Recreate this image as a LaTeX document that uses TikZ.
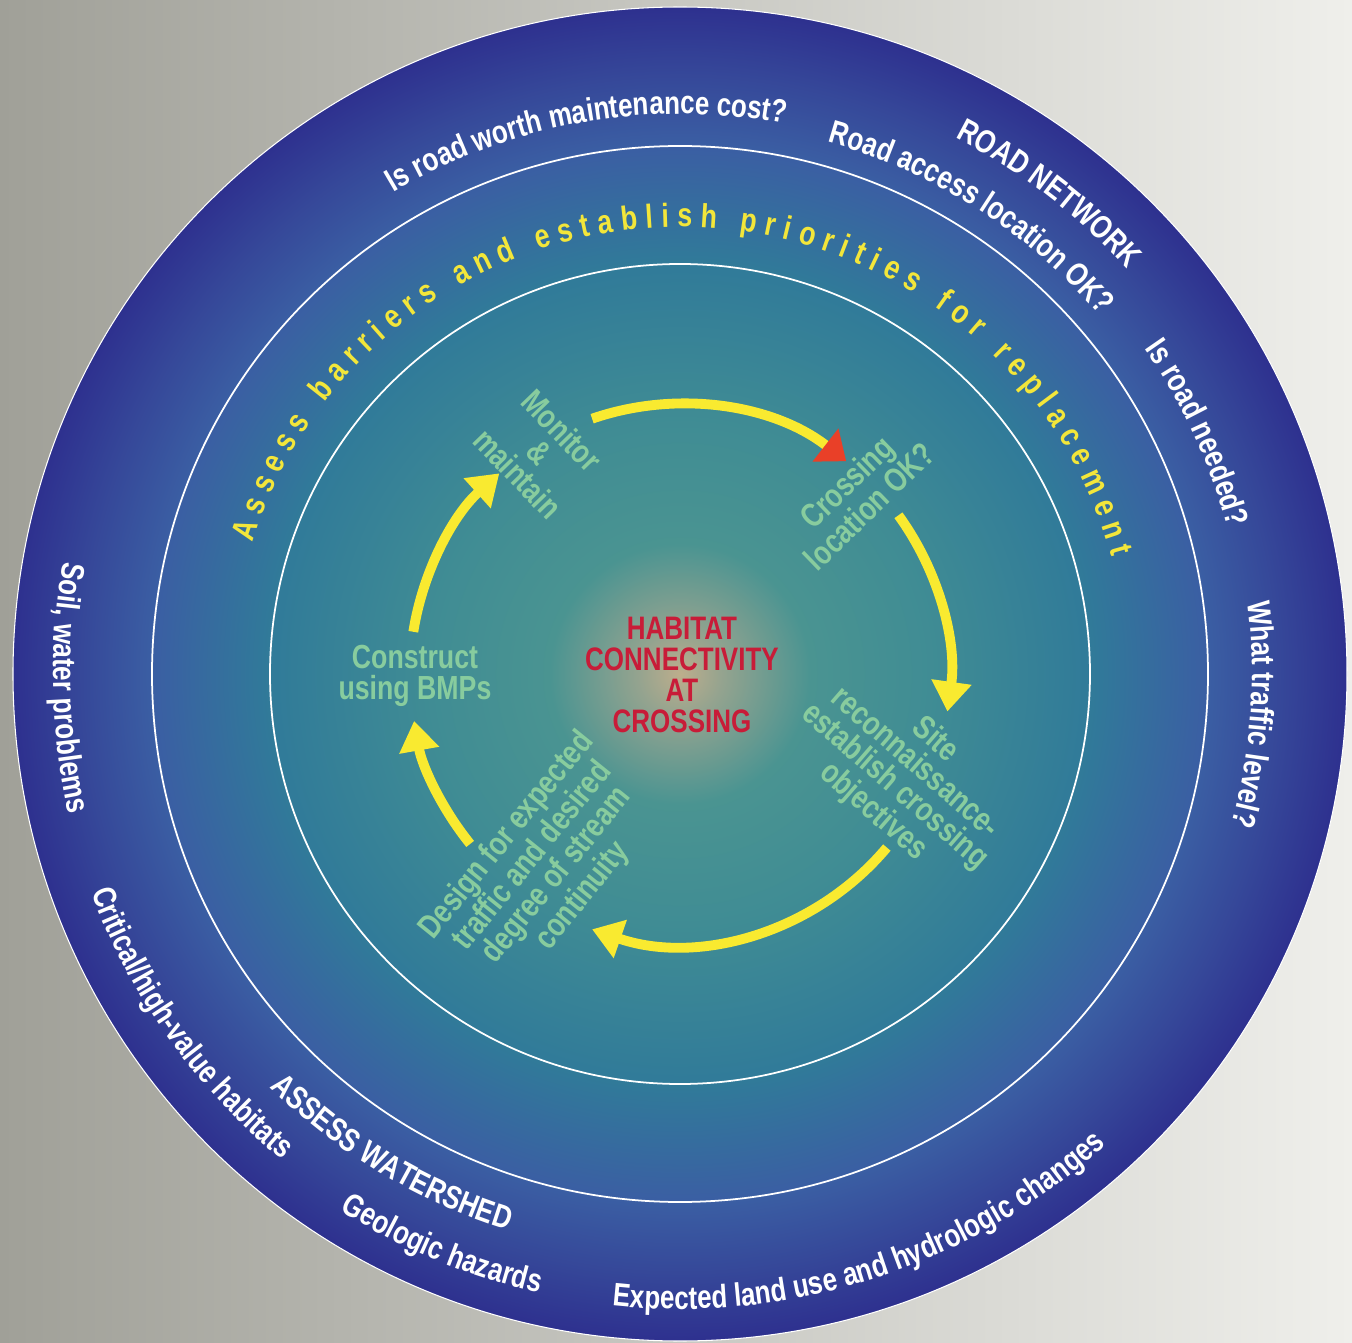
\documentclass[tikz,border=0pt]{standalone}
\usepackage{fontspec}
\setmainfont{Liberation Sans}[FakeStretch=0.8]
\usetikzlibrary{shapes,arrows.meta,decorations.text}

\definecolor{bgleft}{RGB}{160,160,152}
\definecolor{bgright}{RGB}{239,239,235}
\definecolor{stepgreen}{RGB}{136,204,158}
\definecolor{cycleyellow}{RGB}{249,234,48}
\definecolor{headred}{RGB}{233,64,40}
\definecolor{hubred}{RGB}{200,28,56}
\definecolor{ringyellow}{RGB}{243,230,58}

% 25bp is the rim of the disk
\pgfdeclareradialshading{discshade}{\pgfpoint{0bp}{0bp}}{%
  rgb(0bp)=(0.74,0.68,0.55);
  rgb(1.6bp)=(0.58,0.64,0.56);
  rgb(4.9bp)=(0.29,0.58,0.57);
  rgb(9.4bp)=(0.25,0.55,0.58);
  rgb(15.4bp)=(0.19,0.48,0.60);
  rgb(19.8bp)=(0.23,0.37,0.64);
  rgb(22.5bp)=(0.21,0.28,0.60);
  rgb(25bp)=(0.18,0.19,0.56);
  rgb(50bp)=(0.18,0.19,0.56)}

\newcommand{\rimfont}{\color{white}\bfseries\fontsize{18.5}{18.5}\selectfont}
\newcommand{\tagfont}{\bfseries\fontsize{19}{19}\selectfont}

\begin{document}
\begin{tikzpicture}[x=0.02cm, y=0.02cm,
    steplabel/.style={text=stepgreen, font=\bfseries\fontsize{19}{17.5}\selectfont, align=center},
    hub/.style={text=hubred, font=\bfseries\fontsize{18.5}{17.5}\selectfont, align=center},
    cycarrow/.style={cycleyellow, line width=5.6pt, -{Triangle[length=17pt,width=22pt]}},
    ring/.style={white, line width=1pt}]

    % frame
    \useasboundingbox (-680,-668) rectangle (672,674);
    \shade[left color=bgleft, right color=bgright] (-680,-668) rectangle (672,674);

    % disk and rings
    \coordinate (hubc) at (0,0);
    \shade[shading=discshade] (hubc) circle[radius=667];
    \draw[ring, line width=0.6pt] (hubc) circle[radius=667];
    \draw[ring] (hubc) circle[radius=528];
    \draw[ring] (hubc) circle[radius=410];

    % road network (clockwise, letters outward)
    \path[decorate, decoration={text along path, text align=center,
        text={|\rimfont|Is road worth maintenance cost?}}]
        (145:560) arc[start angle=145, end angle=55, radius=560];
    \path[decorate, decoration={text along path, text align=center,
        text={|\rimfont|ROAD NETWORK}}]
        (97.5:603) arc[start angle=97.5, end angle=7.5, radius=603];
    \path[decorate, decoration={text along path, text align=center,
        text={|\rimfont|Road access location OK?}}]
        (102.5:552) arc[start angle=102.5, end angle=12.5, radius=552];
    \path[decorate, decoration={text along path, text align=center,
        text={|\rimfont|Is road needed?}}]
        (70:567) arc[start angle=70, end angle=-20, radius=567];
    \path[decorate, decoration={text along path, text align=center,
        text={|\rimfont|What traffic level?}}]
        (41:572) arc[start angle=41, end angle=-49, radius=572];

    % watershed (counter-clockwise, letters inward)
    \path[decorate, decoration={text along path, text align=center,
        text={|\rimfont|Soil, water problems}}]
        (136.3:627) arc[start angle=136.3, end angle=226.3, radius=627];
    \path[decorate, decoration={text along path, text align=center,
        text={|\rimfont|Critical/high-value habitats}}]
        (170.5:628) arc[start angle=170.5, end angle=260.5, radius=628];
    \path[decorate, decoration={text along path, text align=center,
        text={|\rimfont|ASSESS WATERSHED}}]
        (194:582) arc[start angle=194, end angle=284, radius=582];
    \path[decorate, decoration={text along path, text align=center,
        text={|\rimfont|Geologic hazards}}]
        (202.4:635) arc[start angle=202.4, end angle=292.4, radius=635];
    \path[decorate, decoration={text along path, text align=center,
        text={|\rimfont|Expected land use and hydrologic changes}}]
        (243:635) arc[start angle=243, end angle=333, radius=635];

    % middle ring, spaced out
    \path[decorate, decoration={text effects along path,
        text={Assess barriers and establish priorities for replacement},
        text align=center,
        text effects/.cd,
          text along path,
          characters={text=ringyellow, font=\tagfont},
          character widths={inner xsep=2.3pt, font=\tagfont}}]
        (178:447) arc[start angle=178, end angle=0, radius=447];

    % cycle arrows, radius 270
    \coordinate (mtoc) at (109:270);
    \coordinate (ctos) at (36:270);
    \coordinate (stod) at (-40:270);
    \coordinate (dtoc) at (219:270);
    \coordinate (ctom) at (171:270);
    \draw[cycarrow, -{Triangle[length=15pt,width=23pt,color=headred]}] (mtoc) arc[start angle=109, end angle=52, radius=270];
    \draw[cycarrow] (ctos) arc[start angle=36, end angle=-8, radius=270];
    \draw[cycarrow] (stod) arc[start angle=-40, end angle=-109, radius=270];
    \draw[cycarrow] (dtoc) arc[start angle=219, end angle=190, radius=270];
    \draw[cycarrow] (ctom) arc[start angle=171, end angle=132, radius=270];

    % steps
    \node[hub] (hub) at (2,-1) {HABITAT\\CONNECTIVITY\\AT\\CROSSING};
    \node[steplabel, rotate=-46] (monitor) at (-140,222) {Monitor\\\&\\maintain};
    \node[steplabel, rotate=44] (crossing) at (178,180) {Crossing\\location OK?};
    \node[steplabel, rotate=-41] (site) at (224,-102) {Site\\reconnaissance-\\establish crossing\\objectives};
    \node[steplabel, rotate=51] (design) at (-135,-192) {Design for expected\\traffic and desired\\degree of stream\\continuity};
    \node[steplabel] (construct) at (-265,-2) {Construct\\using BMPs};
\end{tikzpicture}
\end{document}
